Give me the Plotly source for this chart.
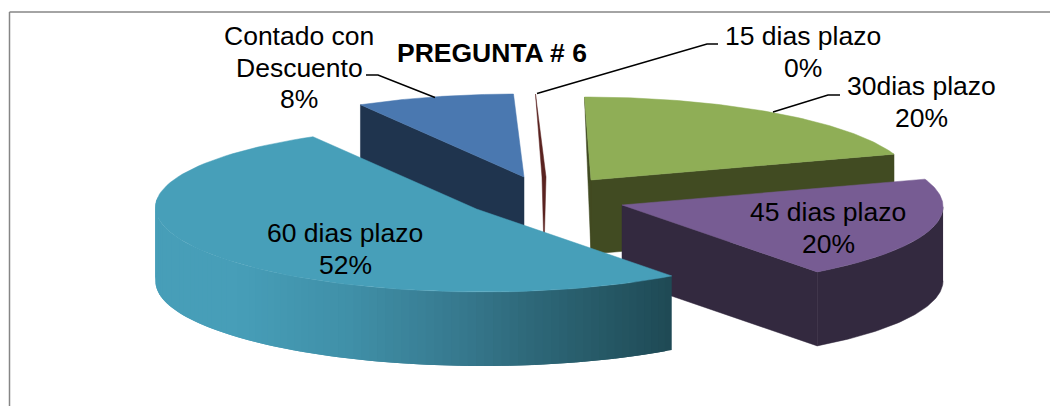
import numpy as np
import plotly.graph_objects as go

# Survey answers, in clockwise order from the first slice
categories = [["Contado con", "Descuento"], ["15 dias plazo"], ["30dias plazo"], ["45 dias plazo"], ["60 dias plazo"]]
shares = [8, 0.2, 20, 20, 52]

top_colors = ["#4a78b0", "#6b2c2a", "#8fae56", "#775c93", "#479fb9"]
wall_colors = ["#1f344e", "#5a2320", "#414b22", "#33293f", "#479fb9"]

# Pie projection: exploded pivot of each slice, ellipse radii, wall height, slight shear
PIVOTS = [(524, 177), (544, 177), (591, 180), (622, 205), (476.5, 209)]
RX, RY, DEPTH, SHEAR = 321, 83, 74, -6.5
FIRST_ANGLE = -(shares[0] + shares[1]) * 360 / sum(shares)

# Light-to-dark shading along the long curved wall (x position, colour)
WALL_X = [155, 240, 350, 470, 525, 672]
WALL_RGB = [(71, 159, 185), (71, 158, 184), (64, 144, 168), (54, 119, 140), (47, 106, 123), (31, 74, 85)]

LABEL_SIZE = 26.5
LINE_STEP = 31.5
# Centre x and centre y of the first line of each label
LABEL_POS = [(299, 36), (803, 36), (921, 86), (828, 212), (345, 233)]

fig = go.Figure()


def rim(cx, cy, deg):
    t = np.radians(deg)
    return cx + RX * np.sin(t) + SHEAR * np.cos(t), cy - RY * np.cos(t)


def poly(xs, ys, color, width=0.5):
    fig.add_trace(go.Scatter(x=list(xs), y=list(ys), mode="lines", fill="toself", fillcolor=color,
                             line=dict(color=color, width=width), hoverinfo="skip", showlegend=False))


angle = FIRST_ANGLE
for i, share in enumerate(shares):
    sweep = share * 360 / sum(shares)
    a0, a1 = angle, angle + sweep
    angle = a1
    cx, cy = PIVOTS[i]
    ts = np.linspace(a0, a1, 90)
    rx_pts, ry_pts = rim(cx, cy, ts)

    if sweep < 2:
        # Very thin slice: only a dark blade is visible
        half = RX * np.sin(np.radians(sweep)) / 2
        mx, my = rim(cx, cy, (a0 + a1) / 2)
        poly([mx, cx - half, cx, cx + half, mx], [my, cy, cy + DEPTH, cy, my], wall_colors[i])
        continue

    if i == 4:
        # Curved wall: overlapping strips painted from the dark end to the light end,
        # each one reaching two steps ahead so no seams show
        step = 1.5
        edges = np.arange(a0, 276, step)
        for s in edges:
            arc = np.linspace(s, s + 2 * step, 6)
            ax, ay = rim(cx, cy, arc)
            mid = rim(cx, cy, s + step / 2)[0]
            c = [np.interp(mid, WALL_X, [p[k] for p in WALL_RGB]) for k in range(3)]
            poly(np.r_[ax, ax[::-1]], np.r_[ay, ay[::-1] + DEPTH], "rgb(%d,%d,%d)" % tuple(c), width=0)
    elif i == 3:
        # Outer wall, from the rightmost point of the rim round to the front corner
        start = int(np.argmax(rx_pts))
        poly(np.r_[rx_pts[start:], rx_pts[start:][::-1]],
             np.r_[ry_pts[start:], ry_pts[start:][::-1] + DEPTH], wall_colors[i])

    # Cut faces that look at the viewer
    if i == 0:
        ex, ey = rim(cx, cy, a0)
        poly([cx, ex, ex, cx, cx], [cy, ey, ey + DEPTH, cy + DEPTH, cy], wall_colors[i])
    elif i in (2, 3):
        ex, ey = rim(cx, cy, a1)
        poly([cx, ex, ex, cx, cx], [cy, ey, ey + DEPTH, cy + DEPTH, cy], wall_colors[i])
    if i == 2:
        ex, ey = rim(cx, cy, a0)
        poly([ex, cx, cx, ex], [ey, cy, cy + DEPTH, ey], wall_colors[i])

    poly(np.r_[cx, rx_pts, cx], np.r_[cy, ry_pts, cy], top_colors[i])

# Leader lines from the outside labels to their slices
leaders = [([366, 378, 435], [75, 75, 97.5]),
           ([718, 707, 537], [44, 44, 93.5]),
           ([840, 828, 773], [95, 95, 112])]
for lx, ly in leaders:
    fig.add_trace(go.Scatter(x=lx, y=ly, mode="lines", line=dict(color="#000000", width=1.5),
                             hoverinfo="skip", showlegend=False))

# Each label line is placed on its own so the leading stays tight
annotations = []
for name, s, (x, y) in zip(categories, shares, LABEL_POS):
    lines = name + [f"{round(s * 100 / sum(shares))}%"]
    for k, text in enumerate(lines):
        annotations.append(dict(x=x, y=y + k * LINE_STEP, text=text, showarrow=False,
                                xanchor="center", yanchor="middle",
                                font=dict(family="Liberation Sans", size=LABEL_SIZE, color="#000000")))
annotations.append(dict(x=492, y=53, text="<b>PREGUNTA # 6</b>", showarrow=False,
                        xanchor="center", yanchor="middle",
                        font=dict(family="Liberation Sans", size=26.5, color="#000000")))

# Chart-area border: only the top and left edges fall inside the frame
frame = [dict(type="line", x0=9.5, x1=9.5, y0=12, y1=406),
         dict(type="line", x0=9.5, x1=1050, y0=12, y1=12)]
for f in frame:
    f.update(xref="x", yref="y", line=dict(color="#868686", width=1.5))

fig.update_layout(
    width=1050, height=406, margin=dict(l=0, r=0, t=0, b=0),
    paper_bgcolor="#ffffff", plot_bgcolor="#ffffff", showlegend=False,
    xaxis=dict(range=[0, 1050], visible=False, fixedrange=True),
    yaxis=dict(range=[406, 0], visible=False, fixedrange=True),
    annotations=annotations, shapes=frame,
)

fig.write_html("out.html", config={"displayModeBar": False})
